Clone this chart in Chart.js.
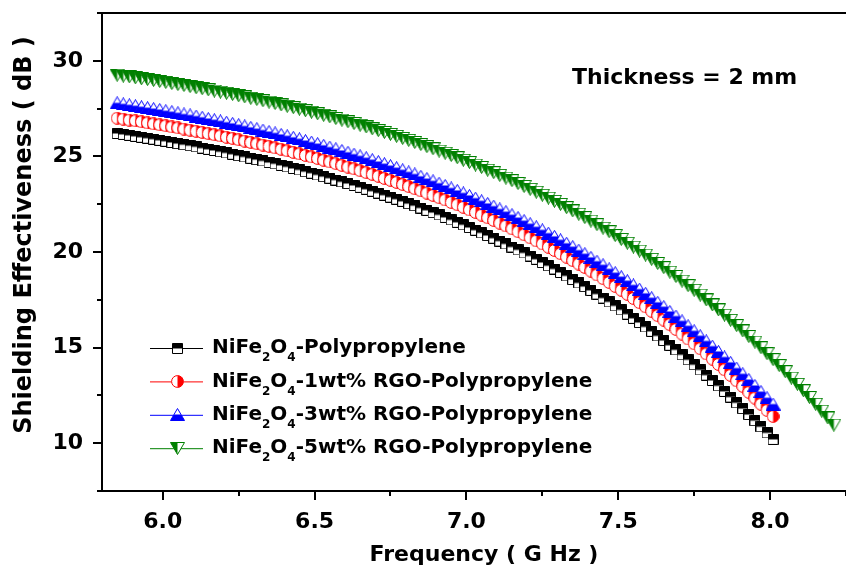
<!DOCTYPE html>
<html>
<head>
<meta charset="utf-8">
<title>Shielding Effectiveness vs Frequency</title>
<script src="https://cdn.jsdelivr.net/npm/chart.js@4.4.1/dist/chart.umd.min.js"></script>
<style>
  html, body { margin: 0; padding: 0; background: #fff; }
  canvas { display: block; }
</style>
</head>
<body>
<canvas id="seChart" width="846" height="569"></canvas>
<script>
// frequency (GHz)
const freq = [
  5.85, 5.87, 5.89, 5.91, 5.93, 5.95, 5.97, 5.99, 6.01, 6.03,
  6.05, 6.07, 6.09, 6.11, 6.13, 6.15, 6.17, 6.19, 6.21, 6.23,
  6.25, 6.27, 6.29, 6.31, 6.33, 6.35, 6.37, 6.39, 6.41, 6.43,
  6.45, 6.47, 6.49, 6.51, 6.53, 6.55, 6.57, 6.59, 6.61, 6.63,
  6.65, 6.67, 6.69, 6.71, 6.73, 6.75, 6.77, 6.79, 6.81, 6.83,
  6.85, 6.87, 6.89, 6.91, 6.93, 6.95, 6.97, 6.99, 7.01, 7.03,
  7.05, 7.07, 7.09, 7.11, 7.13, 7.15, 7.17, 7.19, 7.21, 7.23,
  7.25, 7.27, 7.29, 7.31, 7.33, 7.35, 7.37, 7.39, 7.41, 7.43,
  7.45, 7.47, 7.49, 7.51, 7.53, 7.55, 7.57, 7.59, 7.61, 7.63,
  7.65, 7.67, 7.69, 7.71, 7.73, 7.75, 7.77, 7.79, 7.81, 7.83,
  7.85, 7.87, 7.89, 7.91, 7.93, 7.95, 7.97, 7.99, 8.01, 8.03,
  8.05, 8.07, 8.09, 8.11, 8.13, 8.15, 8.17, 8.19, 8.21
];

// shielding effectiveness (dB)
const sePP = [
  26.20, 26.15, 26.10, 26.05, 26.00, 25.95, 25.90, 25.84, 25.79, 25.73,
  25.67, 25.61, 25.56, 25.50, 25.43, 25.37, 25.31, 25.24, 25.18, 25.11,
  25.04, 24.97, 24.90, 24.83, 24.76, 24.68, 24.61, 24.53, 24.45, 24.37,
  24.29, 24.20, 24.12, 24.03, 23.94, 23.86, 23.76, 23.67, 23.58, 23.48,
  23.38, 23.28, 23.18, 23.08, 22.97, 22.87, 22.76, 22.65, 22.53, 22.42,
  22.30, 22.18, 22.06, 21.94, 21.81, 21.68, 21.55, 21.42, 21.28, 21.14,
  21.00, 20.86, 20.72, 20.57, 20.42, 20.26, 20.11, 19.95, 19.79, 19.62,
  19.45, 19.28, 19.11, 18.93, 18.75, 18.56, 18.38, 18.19, 17.99, 17.80,
  17.59, 17.39, 17.18, 16.97, 16.75, 16.53, 16.31, 16.08, 15.85, 15.61,
  15.37, 15.12, 14.88, 14.62, 14.36, 14.10, 13.83, 13.56, 13.28, 13.00,
  12.71, 12.41, 12.11, 11.81, 11.50, 11.18, 10.86, 10.54, 10.20
];
const seRGO1 = [
  27.00, 26.95, 26.90, 26.86, 26.81, 26.75, 26.70, 26.65, 26.60, 26.54,
  26.49, 26.43, 26.37, 26.31, 26.25, 26.19, 26.13, 26.07, 26.00, 25.94,
  25.87, 25.80, 25.73, 25.66, 25.59, 25.52, 25.44, 25.37, 25.29, 25.21,
  25.13, 25.05, 24.97, 24.89, 24.80, 24.71, 24.62, 24.53, 24.44, 24.35,
  24.25, 24.15, 24.06, 23.96, 23.85, 23.75, 23.64, 23.53, 23.42, 23.31,
  23.20, 23.08, 22.96, 22.84, 22.72, 22.59, 22.47, 22.34, 22.20, 22.07,
  21.93, 21.79, 21.65, 21.51, 21.36, 21.21, 21.06, 20.90, 20.74, 20.58,
  20.42, 20.25, 20.08, 19.91, 19.73, 19.55, 19.37, 19.19, 19.00, 18.80,
  18.61, 18.41, 18.20, 18.00, 17.79, 17.57, 17.35, 17.13, 16.90, 16.67,
  16.44, 16.20, 15.95, 15.71, 15.45, 15.20, 14.94, 14.67, 14.40, 14.12,
  13.84, 13.55, 13.26, 12.97, 12.66, 12.36, 12.04, 11.72, 11.40
];
const seRGO3 = [
  27.80, 27.75, 27.70, 27.65, 27.60, 27.55, 27.50, 27.45, 27.39, 27.34,
  27.28, 27.22, 27.17, 27.11, 27.05, 26.98, 26.92, 26.86, 26.79, 26.73,
  26.66, 26.59, 26.52, 26.45, 26.38, 26.30, 26.23, 26.15, 26.08, 26.00,
  25.92, 25.83, 25.75, 25.67, 25.58, 25.49, 25.40, 25.31, 25.22, 25.12,
  25.03, 24.93, 24.83, 24.73, 24.62, 24.52, 24.41, 24.30, 24.19, 24.08,
  23.96, 23.84, 23.72, 23.60, 23.48, 23.35, 23.22, 23.09, 22.96, 22.82,
  22.68, 22.54, 22.40, 22.25, 22.11, 21.95, 21.80, 21.64, 21.48, 21.32,
  21.16, 20.99, 20.82, 20.64, 20.46, 20.28, 20.10, 19.91, 19.72, 19.52,
  19.33, 19.12, 18.92, 18.71, 18.50, 18.28, 18.06, 17.84, 17.61, 17.37,
  17.14, 16.89, 16.65, 16.40, 16.14, 15.88, 15.62, 15.35, 15.08, 14.80,
  14.51, 14.23, 13.93, 13.63, 13.33, 13.02, 12.70, 12.38, 12.05
];
const seRGO5 = [
  29.25, 29.20, 29.16, 29.11, 29.06, 29.02, 28.97, 28.92, 28.87, 28.81,
  28.76, 28.71, 28.65, 28.59, 28.54, 28.48, 28.42, 28.36, 28.30, 28.24,
  28.17, 28.11, 28.04, 27.98, 27.91, 27.84, 27.77, 27.69, 27.62, 27.55,
  27.47, 27.39, 27.31, 27.23, 27.15, 27.07, 26.98, 26.90, 26.81, 26.72,
  26.63, 26.54, 26.44, 26.35, 26.25, 26.15, 26.05, 25.94, 25.84, 25.73,
  25.62, 25.51, 25.40, 25.28, 25.17, 25.05, 24.93, 24.80, 24.68, 24.55,
  24.42, 24.28, 24.15, 24.01, 23.87, 23.73, 23.58, 23.43, 23.28, 23.13,
  22.97, 22.82, 22.65, 22.49, 22.32, 22.15, 21.98, 21.80, 21.62, 21.43,
  21.25, 21.06, 20.86, 20.66, 20.46, 20.26, 20.05, 19.84, 19.62, 19.40,
  19.18, 18.95, 18.72, 18.48, 18.24, 18.00, 17.75, 17.49, 17.23, 16.97,
  16.70, 16.43, 16.15, 15.87, 15.58, 15.29, 14.99, 14.68, 14.37, 14.06,
  13.74, 13.41, 13.08, 12.74, 12.39, 12.04, 11.68, 11.32, 10.95
];

const seriesLabels = [
  "NiFe₂O₄-Polypropylene",
  "NiFe₂O₄-1wt% RGO-Polypropylene",
  "NiFe₂O₄-3wt% RGO-Polypropylene",
  "NiFe₂O₄-5wt% RGO-Polypropylene"
];

// axis ticks (majors get a label, the others are minor marks)
const xTicks = [6.0, 6.25, 6.5, 6.75, 7.0, 7.25, 7.5, 7.75, 8.0, 8.25];
const xLabels = ["6.0", "", "6.5", "", "7.0", "", "7.5", "", "8.0", ""];
const yTicks = [7.5, 10, 12.5, 15, 17.5, 20, 22.5, 25, 27.5, 30, 32.5];
const yLabels = ["", "10", "", "15", "", "20", "", "25", "", "30", ""];

const xTitle = "Frequency ( G Hz )";
const yTitle = "Shielding Effectiveness ( dB )";
const note = "Thickness = 2 mm";

const FONT = "DejaVu Sans";

// half filled markers like the original plot
function marker(shape, color) {
  const c = document.createElement("canvas");
  const w = shape === "square" ? 11 : shape === "circle" ? 13 : 15;
  const h = shape === "square" ? 11 : 13;
  c.width = w;
  c.height = h;
  const g = c.getContext("2d");
  const p = new Path2D();
  if (shape === "square") p.rect(0.5, 0.5, w - 1, h - 1);
  else if (shape === "circle") p.arc(w / 2, h / 2, w / 2 - 0.6, 0, Math.PI * 2);
  else if (shape === "up") { p.moveTo(w / 2, 0.5); p.lineTo(w - 0.5, h - 0.5); p.lineTo(0.5, h - 0.5); p.closePath(); }
  else { p.moveTo(0.5, 0.5); p.lineTo(w - 0.5, 0.5); p.lineTo(w / 2, h - 0.5); p.closePath(); }
  g.fillStyle = "#fff";
  g.fill(p);
  g.save();
  g.clip(p);
  g.fillStyle = color;
  if (shape === "square") g.fillRect(0, 0, w, h / 2);
  else if (shape === "circle") g.fillRect(w / 2, 0, w / 2, h);
  else if (shape === "up") g.fillRect(0, h / 2, w, h / 2);
  else g.fillRect(0, 0, w / 2, h);
  g.restore();
  g.strokeStyle = color;
  g.lineWidth = 1;
  g.stroke(p);
  return c;
}

const colors = ["#000000", "#ff0000", "#0000ff", "#008000"];
const markers = [
  marker("square", colors[0]),
  marker("circle", colors[1]),
  marker("up", colors[2]),
  marker("down", colors[3])
];
const seriesValues = [sePP, seRGO1, seRGO3, seRGO5];

function toPoints(vals) {
  return vals.map((v, i) => ({ x: freq[i], y: v }));
}

// text with unicode subscripts drawn smaller and lowered
const SUBS = { "₂": "2", "₄": "4" };
function drawRich(ctx, text, x, y, size) {
  let cx = x;
  let run = "";
  const flush = () => {
    if (!run) return;
    ctx.font = `bold ${size}px "${FONT}"`;
    ctx.fillText(run, cx, y);
    cx += ctx.measureText(run).width;
    run = "";
  };
  for (const ch of text) {
    if (SUBS[ch]) {
      flush();
      ctx.font = `bold ${Math.round(size * 0.62)}px "${FONT}"`;
      ctx.fillText(SUBS[ch], cx, y + size * 0.5);
      cx += ctx.measureText(SUBS[ch]).width;
    } else {
      run += ch;
    }
  }
  flush();
}

const decor = {
  id: "decor",
  afterDraw(chart) {
    const { ctx, chartArea: a, scales } = chart;
    const xs = scales.x;
    const ys = scales.y;
    ctx.save();
    ctx.strokeStyle = "#000";
    // top frame line
    ctx.lineWidth = 2;
    ctx.beginPath();
    ctx.moveTo(a.left - 1, a.top);
    ctx.lineTo(a.right, a.top);
    ctx.stroke();
    // tick marks, outward
    xTicks.forEach((v, i) => {
      const px = Math.round(xs.getPixelForValue(v));
      const len = xLabels[i] ? 9 : 5;
      ctx.beginPath();
      ctx.moveTo(px, a.bottom);
      ctx.lineTo(px, a.bottom + len);
      ctx.stroke();
    });
    yTicks.forEach((v, i) => {
      const py = Math.round(ys.getPixelForValue(v));
      const len = yLabels[i] ? 9 : 5;
      ctx.beginPath();
      ctx.moveTo(a.left, py);
      ctx.lineTo(a.left - len, py);
      ctx.stroke();
    });

    ctx.fillStyle = "#000";
    ctx.textBaseline = "middle";
    ctx.textAlign = "center";
    // axis titles
    ctx.font = `bold 22px "${FONT}"`;
    ctx.fillText(xTitle, 484, 555);
    ctx.save();
    ctx.translate(25, 235);
    ctx.rotate(-Math.PI / 2);
    ctx.font = `bold 24px "${FONT}"`;
    ctx.fillText(yTitle, 0, 0);
    ctx.restore();

    // legend in the lower left corner
    ctx.textAlign = "left";
    seriesLabels.forEach((label, i) => {
      const y = 348 + i * 33.4;
      ctx.strokeStyle = colors[i];
      ctx.lineWidth = 1;
      ctx.beginPath();
      ctx.moveTo(150, y + 0.5);
      ctx.lineTo(203, y + 0.5);
      ctx.stroke();
      const m = markers[i];
      ctx.drawImage(m, Math.round(177 - m.width / 2), Math.round(y - m.height / 2));
      ctx.fillStyle = "#000";
      drawRich(ctx, label, 212, y, 20);
    });

    // thickness note
    ctx.font = `bold 22px "${FONT}"`;
    ctx.fillText(note, 572, 78);
    ctx.restore();
  }
};

new Chart(document.getElementById("seChart"), {
  type: "line",
  data: {
    datasets: seriesValues.map((vals, i) => ({
      label: seriesLabels[i],
      data: toPoints(vals),
      borderColor: colors[i],
      backgroundColor: colors[i],
      borderWidth: 1,
      pointStyle: markers[i],
      pointRadius: 6,
      pointHoverRadius: 6,
      fill: false,
      tension: 0,
      order: 4 - i,
    })),
  },
  options: {
    responsive: false,
    animation: false,
    events: [],
    layout: { autoPadding: false, padding: { top: 13, right: 0, left: 0, bottom: 0 } },
    plugins: {
      legend: { display: false },
      tooltip: { enabled: false },
    },
    scales: {
      x: {
        type: "linear",
        min: 5.8,
        max: 8.25,
        afterBuildTicks: (s) => { s.ticks = xTicks.map((v) => ({ value: v })); },
        afterFit: (s) => { s.height = 78; s.paddingLeft = 0; s.paddingRight = 0; },
        grid: { display: true, drawOnChartArea: false, drawTicks: true, tickLength: 9, tickColor: "rgba(0,0,0,0)" },
        border: { display: true, color: "#000", width: 2 },
        ticks: {
          autoSkip: false,
          maxRotation: 0,
          padding: 9,
          color: "#000",
          font: { family: FONT, size: 22, weight: "bold" },
          callback: (v, i) => xLabels[i],
        },
      },
      y: {
        type: "linear",
        min: 7.5,
        max: 32.5,
        afterBuildTicks: (s) => { s.ticks = yTicks.map((v) => ({ value: v })); },
        afterFit: (s) => { s.width = 102; s.paddingTop = 0; s.paddingBottom = 0; },
        grid: { display: true, drawOnChartArea: false, drawTicks: true, tickLength: 9, tickColor: "rgba(0,0,0,0)" },
        border: { display: true, color: "#000", width: 2 },
        ticks: {
          autoSkip: false,
          padding: 10,
          color: "#000",
          font: { family: FONT, size: 22, weight: "bold" },
          callback: (v, i) => yLabels[i],
        },
      },
    },
  },
  plugins: [decor],
});
</script>
</body>
</html>
